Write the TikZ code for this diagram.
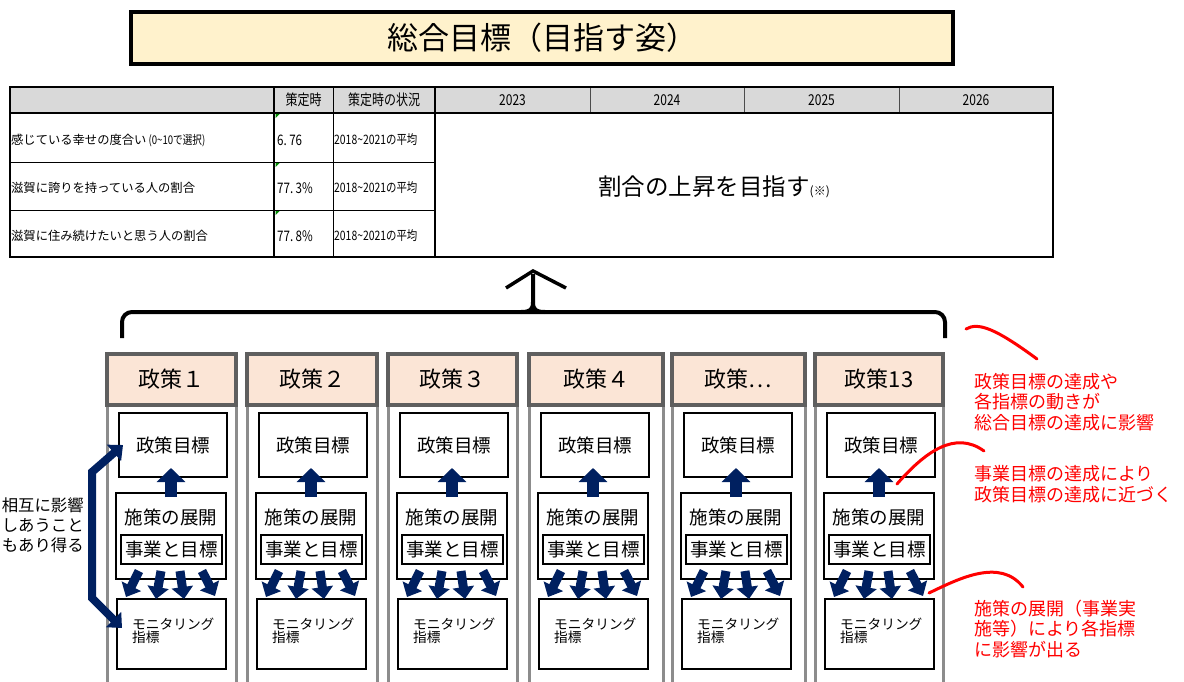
\documentclass[tikz,border=0pt]{standalone}
\usepackage{fontspec}
\setmainfont{Noto Sans CJK JP}
\newfontfamily\cond[FakeStretch=0.8]{Noto Sans CJK JP}
\usetikzlibrary{arrows.meta,calc}
\definecolor{navy}{RGB}{0,32,96}
\definecolor{titlefill}{RGB}{255,242,204}
\definecolor{peach}{RGB}{251,229,214}
\definecolor{hdrgray}{RGB}{217,217,217}
\definecolor{colgray}{RGB}{140,140,140}
\definecolor{hdrborder}{RGB}{95,95,95}
\definecolor{annred}{RGB}{255,0,0}
\definecolor{xlgreen}{RGB}{0,140,0}
\newcommand{\fs}[1]{\fontsize{#1}{#1}\selectfont}
\begin{document}
\begin{tikzpicture}[x=1pt,y=-1pt,
  titlebox/.style={draw=black, line width=4pt, fill=titlefill, inner sep=0pt, font=\fs{31}},
  tline/.style={draw=black, line width=0.8pt},
  tthick/.style={draw=black, line width=1.6pt},
  thdr/.style={font=\cond\fs{15}, inner sep=0pt},
  tlabel/.style={font=\fs{12.3}, inner sep=0pt, anchor=west},
  tval/.style={font=\cond\fs{14.5}, inner sep=0pt, anchor=west},
  tsmall/.style={font=\cond\fs{13}, inner sep=0pt, anchor=west},
  colbody/.style={draw=colgray, line width=3pt},
  colhead/.style={draw=hdrborder, line width=4pt, fill=peach, inner sep=0pt, font=\fs{22}},
  wbox/.style={draw=black, line width=2pt, fill=white, inner sep=0pt},
  btext/.style={font=\fs{18.5}, inner sep=0pt},
  mtext/.style={font=\fs{13.7}, inner sep=0pt, align=left, anchor=west},
  uparr/.style={draw=navy, line width=12pt, -{Triangle[length=14pt,width=28pt]}},
  dnarr/.style={draw=navy, line width=9pt, -{Triangle[length=12pt,width=21pt]}},
  dblarr/.style={draw=navy, line width=8pt, {Triangle[length=12pt,width=21pt]}-{Triangle[length=12pt,width=21pt]}},
  bracket/.style={draw=black, line width=4pt},
  redline/.style={draw=annred, line width=3pt, line cap=round},
  redtext/.style={text=annred, font=\fs{18}, align=left, inner sep=0pt, anchor=west},
]
\useasboundingbox (0,0) rectangle (1184,682);

% ---------- title ----------
\node[titlebox, minimum width=822pt, minimum height=52pt] (title) at (542,38) {総合目標（目指す姿）};

% ---------- table ----------
\fill[hdrgray] (10,87) rectangle (1053,113);
\fill[white] (10,113) rectangle (1053,257);
\draw[tline] (10,162) -- (435,162);
\draw[tline] (10,210) -- (435,210);
\draw[tline] (333,87) -- (333,257);
\draw[tline, draw=black!70] (590,87) -- (590,113);
\draw[tline, draw=black!70] (744,87) -- (744,113);
\draw[tline, draw=black!70] (899,87) -- (899,113);
\draw[tthick] (274,87) -- (274,257);
\draw[tthick] (435,87) -- (435,257);
\draw[tthick] (10,113) -- (1053,113);
\draw[draw=black, line width=2pt] (10,87) rectangle (1053,257);
\foreach \yy in {114,163,211} {\fill[xlgreen] (275.5,\yy) -- (279.5,\yy) -- (275.5,\yy+4) -- cycle;}

\node[thdr] (hA) at (303.5,100) {策定時};
\node[thdr] (hB) at (384,100) {策定時の状況};
\node[thdr] (y1) at (512.5,100) {2023};
\node[thdr] (y2) at (667,100) {2024};
\node[thdr] (y3) at (821.5,100) {2025};
\node[thdr] (y4) at (976,100) {2026};

\node[tlabel] (r1) at (11,140) {感じている幸せの度合い{\cond\fs{12} (0\textasciitilde 10で選択)}};
\node[tlabel] (r2) at (11,188) {滋賀に誇りを持っている人の割合};
\node[tlabel] (r3) at (11,236) {滋賀に住み続けたいと思う人の割合};
\node[tval] (v1) at (277,140) {6.\,76};
\node[tval] (v2) at (277,188) {77.\,3\%};
\node[tval] (v3) at (277,236) {77.\,8\%};
\node[tsmall] (c1) at (334,140) {2018\textasciitilde 2021の平均};
\node[tsmall] (c2) at (334,188) {2018\textasciitilde 2021の平均};
\node[tsmall] (c3) at (334,236) {2018\textasciitilde 2021の平均};
\node[inner sep=0pt, font=\fs{23.5}] (goal) at (714,187) {割合の上昇を目指す{\fs{12}(※)}};

% ---------- bracket ----------
\draw[bracket, rounded corners=10pt] (122,338) -- (122,312) -- (945,312) -- (945,338);
\draw[bracket] (521,312) .. controls (530,312) and (533,310) .. (533,302) -- (533,274);
\draw[bracket] (545,312) .. controls (536,312) and (533,310) .. (533,302);
\draw[draw=black, line width=3.5pt] (506,288) -- (533,271) -- (566,288);

% ---------- columns ----------
\foreach \i/\L/\W/\lab in {1/107/129/政策１, 2/247/130/政策２, 3/388/129/政策３, 4/529/134/政策４, 5/672/133/政策…, 6/815/128/政策13} {
  \draw[colbody] (\L,690) -- (\L,380) -- (\L+\W,380) -- (\L+\W,690);
  \node[colhead, minimum width=\W pt, minimum height=51pt] (h\i) at ({\L+\W/2},379.5) {\lab};
  \node[wbox, minimum width=108pt, minimum height=64pt] (p\i) at (\L+66,445) {};
  \node[btext] (pt\i) at (\L+66,445) {政策目標};
  \node[wbox, minimum width=110pt, minimum height=86pt] (s\i) at (\L+64,536) {};
  \node[btext] (st\i) at (\L+64,517) {施策の展開};
  \node[wbox, minimum width=101pt, minimum height=29pt] (j\i) at (\L+64.5,549.5) {};
  \node[btext] (jt\i) at (\L+64.5,549.5) {事業と目標};
  \node[wbox, minimum width=109pt, minimum height=70pt] (m\i) at (\L+64.5,634) {};
  \node[mtext] (mt\i) at (\L+25,631) {モニタリング\\[-1pt]指標};
  \draw[uparr, shorten >=-10pt, shorten <=-5pt] (s\i.north) -- (s\i.north |- p\i.south);
  \draw[dnarr] ($(s\i.south west)+(24,-9)$) -- ($(m\i.north west)+(10,-1)$);
  \draw[dnarr] ($(s\i.south west)+(46,-9)$) -- ($(m\i.north west)+(40,1)$);
  \draw[dnarr] ($(s\i.south west)+(65,-9)$) -- ($(m\i.north west)+(68,1)$);
  \draw[dnarr] ($(s\i.south west)+(87,-9)$) -- ($(m\i.north west)+(99,-2)$);
}

% ---------- mutual influence ----------
\coordinate (dA) at (92,472);
\coordinate (dB) at (92,598);
\draw[dblarr] ($(p1.west)+(5,0)$) -- (dA) -- (dB) -- ($(m1.west)+(6,-6)$);
\node[inner sep=0pt, font=\fs{16.4}, align=left, anchor=east] (mut) at (84,525) {相互に影響\\[3.5pt]しあうこと\\[3.5pt]もあり得る};

% ---------- red annotations ----------
\draw[redline] (966,329) .. controls (978,322) and (995,328) .. (1037,359);
\node[redtext] (a1) at (974,402) {政策目標の達成や\\[2.5pt]各指標の動きが\\[2.5pt]総合目標の達成に影響};
\draw[redline] (897,484) .. controls (925,452) and (955,430) .. (984,451);
\node[redtext] (a2) at (974,484) {事業目標の達成により\\[2.5pt]政策目標の達成に近づく};
\draw[redline] (929,593) .. controls (960,578) and (1000,558) .. (1023,587);
\node[redtext] (a3) at (974,629) {施策の展開（事業実\\[2.5pt]施等）により各指標\\[2.5pt]に影響が出る};
\end{tikzpicture}
\end{document}
